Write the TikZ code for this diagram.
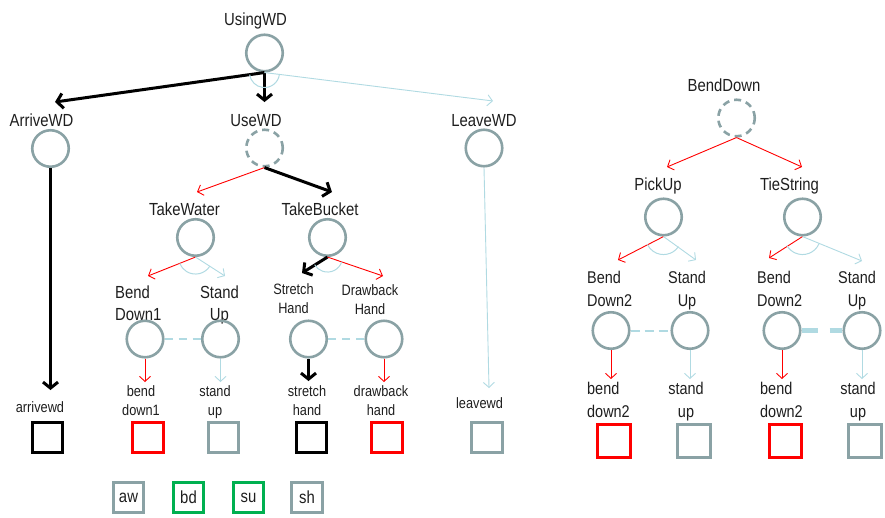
\documentclass[tikz,border=0pt]{standalone}
\usepackage{fontspec}
\setmainfont{Liberation Sans}[FakeStretch=0.85]
\usetikzlibrary{arrows.meta}
\definecolor{cgray}{RGB}{138,162,165}
\definecolor{cblue}{RGB}{176,218,226}
\definecolor{cred}{RGB}{255,0,0}
\definecolor{cgreen}{RGB}{0,176,80}
\definecolor{ctext}{RGB}{30,30,30}
\begin{document}
\begin{tikzpicture}[x=1pt,y=-1pt,
 goal/.style={circle,draw=cgray,line width=2.6pt,minimum size=36.5pt,inner sep=0pt},
 orgoal/.style={goal,dash pattern=on 7pt off 5pt},
 lbl/.style={font=\fontsize{17.5}{22}\selectfont,text=ctext,anchor=base,inner sep=0pt},
 rlbl/.style={font=\fontsize{17}{23}\selectfont,text=ctext,anchor=base,inner sep=0pt},
 slbl/.style={font=\fontsize{15}{19}\selectfont,text=ctext,anchor=base,inner sep=0pt},
 act/.style={rectangle,line width=2.6pt,minimum size=30.5pt,inner sep=0pt},
 ract/.style={rectangle,line width=2.6pt,minimum size=32.5pt,inner sep=0pt},
 leg/.style={rectangle,line width=2.6pt,minimum size=30.5pt,inner sep=0pt,font=\fontsize{17.5}{21}\selectfont,text=ctext},
 redarr/.style={draw=cred,line width=0.9pt,-{Straight Barb[length=5pt,width=11pt]}},
 bluearr/.style={draw=cblue,line width=0.9pt,-{Straight Barb[length=5pt,width=11pt]}},
 blackarr/.style={draw=black,line width=3pt,-{Straight Barb[length=6pt,width=15pt]}},
 andarc/.style={draw=cblue,line width=1pt},
 dlink/.style={draw=cblue,line width=2.5pt,dash pattern=on 8pt off 6pt},
 thinlink/.style={draw=cblue,line width=2pt,dash pattern=on 9pt off 5pt},
 thicklink/.style={draw=cblue,line width=5pt,dash pattern=on 16pt off 12pt}
]
\useasboundingbox (0,0) rectangle (885,517);

% ---------- left tree ----------
\node[lbl] (lUsing) at (255.5,25) {UsingWD};
\node[goal] (using) at (264.5,53) {};
\node[lbl] (lArrive) at (41.5,126) {ArriveWD};
\node[goal] (arrive) at (50.5,148.5) {};
\node[lbl] (lUse) at (256,126) {UseWD};
\node[orgoal] (use) at (264.5,148) {};
\node[lbl] (lLeave) at (484,126) {LeaveWD};
\node[goal] (leave) at (484,148) {};

\coordinate (tArrive) at (55,102);
\coordinate (tUse) at (264.5,102);
\coordinate (tLeave) at (493,101);
\draw[blackarr] (using.south) -- (tArrive);
\draw[blackarr] (using.south) -- (tUse);
\draw[bluearr] (using.south) -- (tLeave);
\draw[andarc] (using.south) ++(7:15) arc[start angle=7,end angle=172,radius=15];

\node[lbl] (lTW) at (184.5,215) {TakeWater};
\node[goal] (tw) at (195.5,237.5) {};
\node[lbl] (lTB) at (320,215) {TakeBucket};
\node[goal] (tb) at (327.5,237.5) {};
\coordinate (tTW) at (197,192);
\coordinate (tTB) at (332,192);
\draw[redarr] (use.south) -- (tTW);
\draw[blackarr] (use.south) -- (tTB);

\coordinate (tBD1) at (148,276);
\coordinate (tSU1) at (225,276);
\draw[redarr] (tw.south) -- (tBD1);
\draw[bluearr] (tw.south) -- (tSU1);
\draw[andarc] (tw.south) ++(32:17) arc[start angle=32,end angle=158,radius=17];

\coordinate (tSH) at (302,273);
\coordinate (tDH) at (383,276);
\draw[blackarr] (tb.south) -- (tSH);
\draw[redarr] (tb.south) -- (tDH);
\draw[andarc] (tb.south) ++(19:15) arc[start angle=19,end angle=149,radius=15];

\node[lbl,anchor=base west,align=left] (lBD1) at (115,320) {Bend\\Down1};
\node[lbl,align=center] (lSU1) at (219.5,320) {Stand\\Up};
\node[slbl,align=center] (lSH) at (293.5,313) {Stretch\\Hand};
\node[slbl,align=center] (lDH) at (370,314) {Drawback\\Hand};
\node[goal] (bd1) at (145,339) {};
\node[goal] (su1) at (220.5,339) {};
\node[goal] (sh) at (308.5,339) {};
\node[goal] (dh) at (384,339) {};
\draw[dlink] (bd1) -- (su1);
\draw[dlink] (sh) -- (dh);

\coordinate (tabd1) at (145,382);
\coordinate (tasu1) at (220.5,382);
\coordinate (tash) at (308.5,381);
\coordinate (tadh) at (384,382);
\coordinate (taarr) at (50.5,390);
\coordinate (taleave) at (489,388);
\draw[redarr] (bd1.south) -- (tabd1);
\draw[bluearr] (su1.south) -- (tasu1);
\draw[blackarr] (sh.south) -- (tash);
\draw[redarr] (dh.south) -- (tadh);
\draw[blackarr] (arrive.south) -- (taarr);
\draw[bluearr] (leave.south) -- (taleave);

\node[slbl] (laarr) at (40,412) {arrivewd};
\node[slbl,align=center] (labd1) at (141,415) {bend\\down1};
\node[slbl,align=center] (lasu1) at (215,415) {stand\\up};
\node[slbl,align=center] (lash) at (307,415) {stretch\\hand};
\node[slbl,align=center] (ladh) at (381,415) {drawback\\hand};
\node[slbl] (laleave) at (479.5,408) {leavewd};

\node[act,draw=black] (qarr) at (47.5,437.5) {};
\node[act,draw=cred] (qbd1) at (148,437.5) {};
\node[act,draw=cgray] (qsu1) at (223.5,437.5) {};
\node[act,draw=black] (qsh) at (311.5,437.5) {};
\node[act,draw=cred] (qdh) at (387,437.5) {};
\node[act,draw=cgray] (qleave) at (487,437.5) {};

\node[leg,draw=cgray] (gaw) at (128.5,497.5) {aw};
\node[leg,draw=cgreen] (gbd) at (188.5,497.5) {bd};
\node[leg,draw=cgreen] (gsu) at (248.5,497.5) {su};
\node[leg,draw=cgray] (gsh) at (307,497.5) {sh};

% ---------- right tree ----------
\node[lbl] (lBD) at (724,91) {BendDown};
\node[orgoal] (bdn) at (736.5,118) {};
\node[lbl] (lPU) at (658,190) {PickUp};
\node[goal] (pu) at (663.5,217) {};
\node[lbl] (lTS) at (789.5,190) {TieString};
\node[goal] (ts) at (802.5,217) {};
\coordinate (tPU) at (667,167);
\coordinate (tTS) at (802,167);
\draw[redarr] (bdn.south) -- (tPU);
\draw[redarr] (bdn.south) -- (tTS);

\coordinate (tBD2a) at (618,260);
\coordinate (tSU2a) at (696,260);
\draw[redarr] (pu.south) -- (tBD2a);
\draw[bluearr] (pu.south) -- (tSU2a);
\draw[andarc] (pu.south) ++(34:18) arc[start angle=34,end angle=154,radius=18];
\coordinate (tBD2b) at (769,258);
\coordinate (tSU2b) at (862,261);
\draw[redarr] (ts.south) -- (tBD2b);
\draw[bluearr] (ts.south) -- (tSU2b);
\draw[andarc] (ts.south) ++(24:18) arc[start angle=24,end angle=150,radius=18];

\node[rlbl,anchor=base west,align=left] (lBD2a) at (587,306) {Bend\\Down2};
\node[rlbl,align=center] (lSU2a) at (687,306) {Stand\\Up};
\node[rlbl,anchor=base west,align=left] (lBD2b) at (757,306) {Bend\\Down2};
\node[rlbl,align=center] (lSU2b) at (857,306) {Stand\\Up};
\node[goal] (bd2a) at (611,330.5) {};
\node[goal] (su2a) at (690,330.5) {};
\node[goal] (bd2b) at (782,330.5) {};
\node[goal] (su2b) at (862,330.5) {};
\draw[thinlink] (bd2a) -- (su2a);
\draw[thicklink] (bd2b) -- (su2b);

\coordinate (tabd2a) at (611,379);
\coordinate (tasu2a) at (690,379);
\coordinate (tabd2b) at (782,379);
\coordinate (tasu2b) at (862,379);
\draw[redarr] (bd2a.south) -- (tabd2a);
\draw[bluearr] (su2a.south) -- (tasu2a);
\draw[redarr] (bd2b.south) -- (tabd2b);
\draw[bluearr] (su2b.south) -- (tasu2b);

\node[rlbl,anchor=base west,align=left] (labd2a) at (587,417) {bend\\down2};
\node[rlbl,align=center] (lasu2a) at (686,417) {stand\\up};
\node[rlbl,anchor=base west,align=left] (labd2b) at (760,417) {bend\\down2};
\node[rlbl,align=center] (lasu2b) at (858,417) {stand\\up};

\node[ract,draw=cred] (qbd2a) at (614,441) {};
\node[ract,draw=cgray] (qsu2a) at (694,441) {};
\node[ract,draw=cred] (qbd2b) at (785.5,441) {};
\node[ract,draw=cgray] (qsu2b) at (865,441) {};
\end{tikzpicture}
\end{document}
